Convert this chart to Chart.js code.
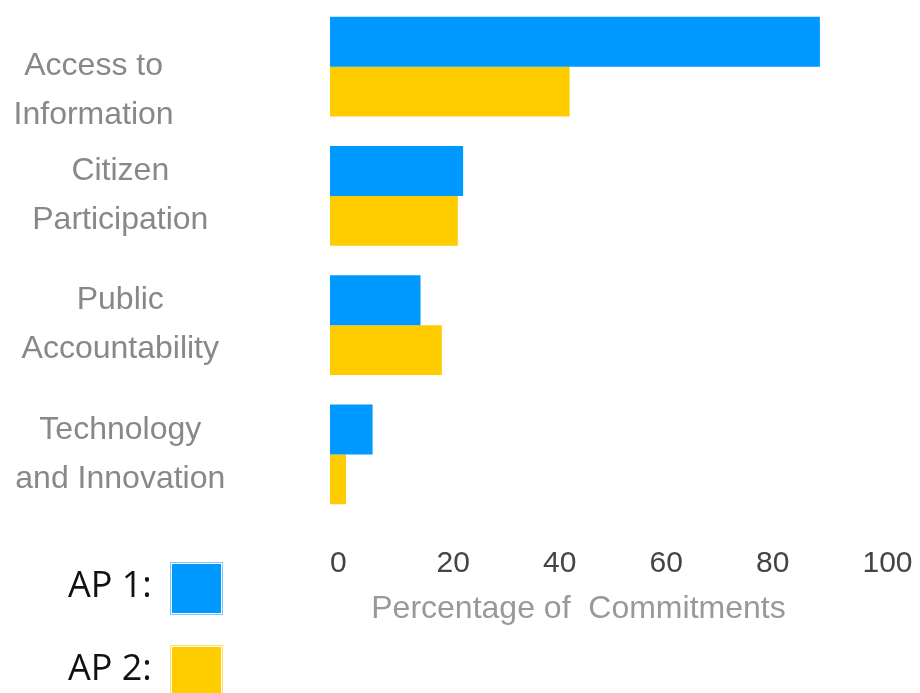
<!DOCTYPE html>
<html>
<head>
<meta charset="utf-8">
<script src="https://cdn.jsdelivr.net/npm/chart.js@4.4.1/dist/chart.umd.min.js"></script>
<style>
  body { margin: 0; background: #fff; }
  #wrap { position: relative; width: 920px; height: 693px; overflow: hidden; }
  #legend { position: absolute; left: 68px; top: 562px; font-family: 'Open Sans', sans-serif; font-size: 36px; color: #111; }
  .item { display: flex; align-items: center; height: 53px; margin-bottom: 30px; }
  .item span { position: relative; top: -5px; margin-right: 18px; }
  .box { width: 51px; height: 51px; box-shadow: inset 0 0 0 1px #fff; }
</style>
</head>
<body>
<div id="wrap">
  <canvas id="chart"></canvas>
  <div id="legend"></div>
</div>
<script>
// categories and values (percentage of commitments)
// (trailing spaces nudge the first label left, as in the original)
const categories = [
  ['', 'Access to      ', 'Information      '],
  ['Citizen', 'Participation'],
  ['Public', 'Accountability'],
  ['Technology', 'and Innovation']
];
const ap1 = [92, 25, 17, 8];
const ap2 = [45, 24, 21, 3];
const seriesNames = ['AP 1:', 'AP 2:'];
const xTicks = [0, 20, 40, 60, 80, 100];

const COLORS = {
  blue: '#0099ff',
  blueEdge: '#7cc8ff',
  yellow: '#ffcc00',
  yellowEdge: '#ffe066',
  label: '#888888',
  tick: '#444444',
  title: '#999999'
};

const chart = new Chart(document.getElementById('chart'), {
  type: 'bar',
  data: {
    labels: categories,
    datasets: [
      { label: seriesNames[0], data: ap1, backgroundColor: COLORS.blue, borderColor: COLORS.blueEdge },
      { label: seriesNames[1], data: ap2, backgroundColor: COLORS.yellow, borderColor: COLORS.yellowEdge }
    ]
  },
  options: {
    indexAxis: 'y',
    responsive: true,
    maintainAspectRatio: false,
    animation: false,
    layout: { padding: { top: 2, right: 57.5, bottom: 65, left: 0 } },
    datasets: { bar: { barPercentage: 1, categoryPercentage: 0.772, borderWidth: 0 } },
    plugins: { legend: { display: false }, tooltip: { enabled: false } },
    scales: {
      x: {
        min: 0,
        max: 100,
        afterBuildTicks: (scale) => { scale.ticks = xTicks.map(v => ({ value: v })); },
        // fixed axis height, no extra side padding from the long "100" label
        afterFit: (scale) => { scale.height = 109; scale.paddingLeft = 0; scale.paddingRight = 0; },
        grid: { display: false, drawTicks: false },
        border: { display: false },
        ticks: {
          align: 'start',
          padding: 27,
          color: COLORS.tick,
          font: { family: 'Liberation Sans, Arial', size: 30 }
        },
        title: {
          display: true,
          text: 'Percentage of  Commitments    ',
          color: COLORS.title,
          font: { family: 'Liberation Sans, Arial', size: 32 },
          padding: { top: 0, bottom: 0 }
        }
      },
      y: {
        grid: { display: false, drawTicks: false },
        border: { display: false },
        afterFit: (scale) => { scale.width = 330; scale.paddingTop = 0; scale.paddingBottom = 0; },
        ticks: {
          autoSkip: false,
          crossAlign: 'center',
          padding: 103,
          color: COLORS.label,
          font: { family: 'Liberation Sans, Arial', size: 32, lineHeight: 1.53 }
        }
      }
    }
  }
});

// legend: text first, then the coloured square
const legend = document.getElementById('legend');
chart.data.datasets.forEach(ds => {
  const row = document.createElement('div');
  row.className = 'item';
  const txt = document.createElement('span');
  txt.textContent = ds.label;
  const box = document.createElement('div');
  box.className = 'box';
  box.style.background = ds.backgroundColor;
  box.style.border = '1px solid ' + ds.borderColor;
  row.appendChild(txt);
  row.appendChild(box);
  legend.appendChild(row);
});
</script>
</body>
</html>
